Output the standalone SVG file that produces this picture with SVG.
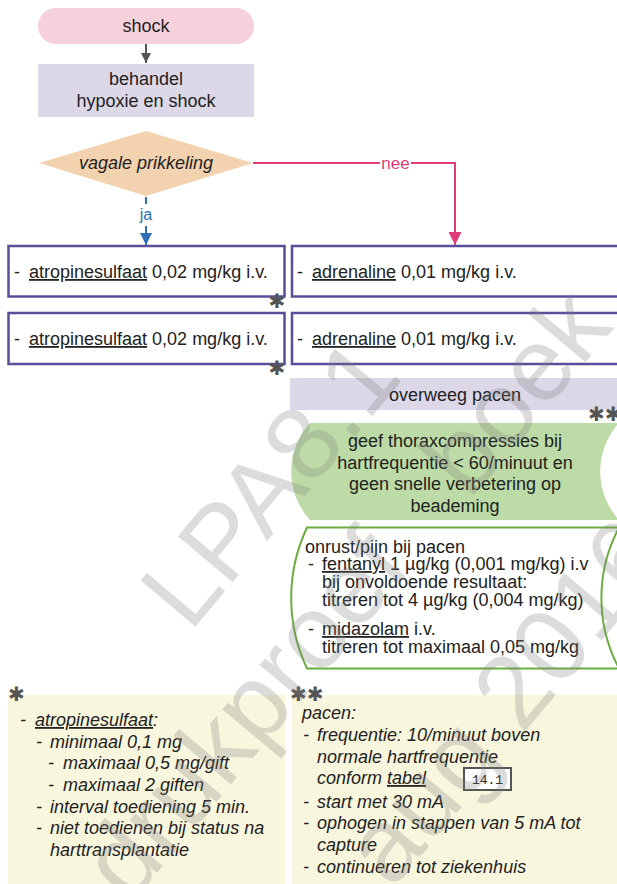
<svg xmlns="http://www.w3.org/2000/svg" width="617" height="884" viewBox="0 0 617 884">
<defs>
<style>
text{font-family:"Liberation Sans",Arial,sans-serif;font-size:18px;fill:#222}
.c{text-anchor:middle}
.i{font-style:italic}
.u{text-decoration:underline}
.box{fill:#fff;stroke:#5a4e9b;stroke-width:2.5}
.lav{fill:#dcd8e8}
.cream{fill:#f8f6dd}
.star{font-family:"DejaVu Sans",sans-serif;font-size:20px;fill:#555;font-weight:bold}
.wm{font-family:"Liberation Sans",Arial,sans-serif;font-size:104px;fill:#808080;opacity:0.27}
</style>
<marker id="ag" viewBox="0 0 10 10" refX="10" refY="5" markerWidth="13" markerHeight="10" markerUnits="userSpaceOnUse" orient="auto"><path d="M0,0L10,5L0,10z" fill="#555"/></marker>
<marker id="ab" viewBox="0 0 10 10" refX="10" refY="5" markerWidth="12" markerHeight="13" markerUnits="userSpaceOnUse" orient="auto"><path d="M0,0L10,5L0,10z" fill="#2d6fb6"/></marker>
<marker id="ap" viewBox="0 0 10 10" refX="10" refY="5" markerWidth="13" markerHeight="14" markerUnits="userSpaceOnUse" orient="auto"><path d="M0,0L10,5L0,10z" fill="#e03d78"/></marker>
</defs>
<rect width="617" height="884" fill="#fff"/>

<g id="connectors" fill="none" stroke-width="2">
<line x1="146" y1="197" x2="146" y2="204" stroke="#2d6fb6"/>
<line x1="146" y1="44" x2="146" y2="63" stroke="#555" marker-end="url(#ag)"/>
<line x1="146" y1="226" x2="146" y2="245" stroke="#2d6fb6" marker-end="url(#ab)"/>
<text x="146" y="220" class="c" style="font-size:16px;fill:#2d6fb6;stroke:none">ja</text>
<polyline points="253,163 380,163" stroke="#e03d78"/>
<polyline points="411,163 455,163 455,245" stroke="#e03d78" marker-end="url(#ap)"/>
<text x="395.5" y="169" class="c" style="font-size:17px;fill:#e03d78;stroke:none">nee</text>
</g>

<g id="shock"><rect x="38" y="8" width="216" height="36" rx="18" fill="#f6d0da"/><text x="146" y="32" class="c">shock</text></g>
<g id="behandel"><rect x="38" y="64" width="216" height="53" class="lav"/><text x="146" y="85" class="c">behandel</text><text x="146" y="107" class="c">hypoxie en shock</text></g>
<g id="vagaal"><polygon points="39,163 146,131 253,163 146,196" fill="#f3d2b0"/><text x="146" y="169" class="c i">vagale prikkeling</text></g>

<g id="atropine1"><rect x="8.5" y="246" width="276" height="50.5" class="box"/><text x="14" y="278">-</text><text x="29" y="278"><tspan class="u">atropinesulfaat</tspan> 0,02 mg/kg i.v.</text><text x="277" y="308" class="star c">✱</text></g>
<g id="atropine2"><rect x="8.5" y="313" width="276" height="51" class="box"/><text x="14" y="345">-</text><text x="29" y="345"><tspan class="u">atropinesulfaat</tspan> 0,02 mg/kg i.v.</text><text x="277" y="375" class="star c">✱</text></g>
<g id="adrenaline1"><rect x="292" y="246" width="340" height="50.5" class="box"/><text x="297" y="278">-</text><text x="312" y="278"><tspan class="u">adrenaline</tspan> 0,01 mg/kg i.v.</text></g>
<g id="adrenaline2"><rect x="292" y="313" width="340" height="51" class="box"/><text x="297" y="345">-</text><text x="312" y="345"><tspan class="u">adrenaline</tspan> 0,01 mg/kg i.v.</text></g>

<g id="pacen"><rect x="290" y="378" width="340" height="32" class="lav"/><text x="455" y="401" class="c">overweeg pacen</text><text x="588" y="421" class="star">✱✱</text></g>

<g id="thorax"><path d="M310,423 H619 A72,72 0 0 0 619,520 H310 A72,72 0 0 1 310,423 Z" fill="#bddba6"/>
<text x="455" y="447" class="c">geef thoraxcompressies bij</text>
<text x="455" y="469" class="c">hartfrequentie &lt; 60/minuut en</text>
<text x="455" y="490" class="c">geen snelle verbetering op</text>
<text x="455" y="512" class="c">beademing</text></g>

<g id="onrust"><path d="M307,527.5 H619 A150,150 0 0 0 619,668.5 H307 A165,165 0 0 1 307,527.5 Z" fill="#fff" stroke="#6cae3e" stroke-width="2"/>
<text x="305" y="553">onrust/pijn bij pacen</text>
<text x="308" y="570">-</text><text x="322" y="570"><tspan class="u">fentanyl</tspan> 1 µg/kg (0,001 mg/kg) i.v</text>
<text x="322" y="588">bij onvoldoende resultaat:</text>
<text x="322" y="606">titreren tot 4 µg/kg (0,004 mg/kg)</text>
<text x="308" y="635">-</text><text x="322" y="635"><tspan class="u">midazolam</tspan> i.v.</text>
<text x="322" y="653">titreren tot maximaal 0,05 mg/kg</text></g>

<g id="note1"><rect x="8" y="695" width="277" height="189" class="cream"/><text x="8" y="701" class="star">✱</text>
<text x="20" y="726" class="i">-</text><text x="35" y="726" class="i"><tspan class="u">atropinesulfaat</tspan>:</text>
<text x="36" y="748" class="i">-</text><text x="50" y="748" class="i">minimaal 0,1 mg</text>
<text x="48" y="769" class="i">-</text><text x="63" y="769" class="i">maximaal 0,5 mg/gift</text>
<text x="48" y="791" class="i">-</text><text x="63" y="791" class="i">maximaal 2 giften</text>
<text x="36" y="813" class="i">-</text><text x="50" y="813" class="i">interval toediening 5 min.</text>
<text x="36" y="834" class="i">-</text><text x="50" y="834" class="i">niet toedienen bij status na</text>
<text x="50" y="856" class="i">harttransplantatie</text>
</g>

<g id="note2"><rect x="292" y="695" width="330" height="189" class="cream"/><text x="290" y="701" class="star">✱✱</text>
<text x="302" y="719" class="i">pacen:</text>
<text x="303" y="741" class="i">-</text><text x="317" y="741" class="i">frequentie: 10/minuut boven</text>
<text x="317" y="763" class="i">normale hartfrequentie</text>
<text x="317" y="784" class="i">conform <tspan class="u">tabel</tspan></text>
<rect x="464" y="768" width="47" height="22" fill="#fff" stroke="#555" stroke-width="2"/>
<text x="487.5" y="784" class="c" style="font-family:'Liberation Mono','DejaVu Sans Mono',monospace;font-size:13px">14.1</text>
<text x="303" y="808" class="i">-</text><text x="317" y="808" class="i">start met 30 mA</text>
<text x="303" y="829" class="i">-</text><text x="317" y="829" class="i">ophogen in stappen van 5 mA tot</text>
<text x="317" y="851" class="i">capture</text>
<text x="303" y="873" class="i">-</text><text x="317" y="873" class="i">continueren tot ziekenhuis</text></g>

<g id="watermark">
<text class="wm" x="190" y="633" transform="rotate(-50 190 633)">LPA8.1</text>
<text class="wm" x="130" y="905" transform="rotate(-50 130 905)" word-spacing="60">drukproef boek</text>
<text class="wm" x="392" y="890" transform="rotate(-50 392 890)">aug 2016</text>
</g>
</svg>
